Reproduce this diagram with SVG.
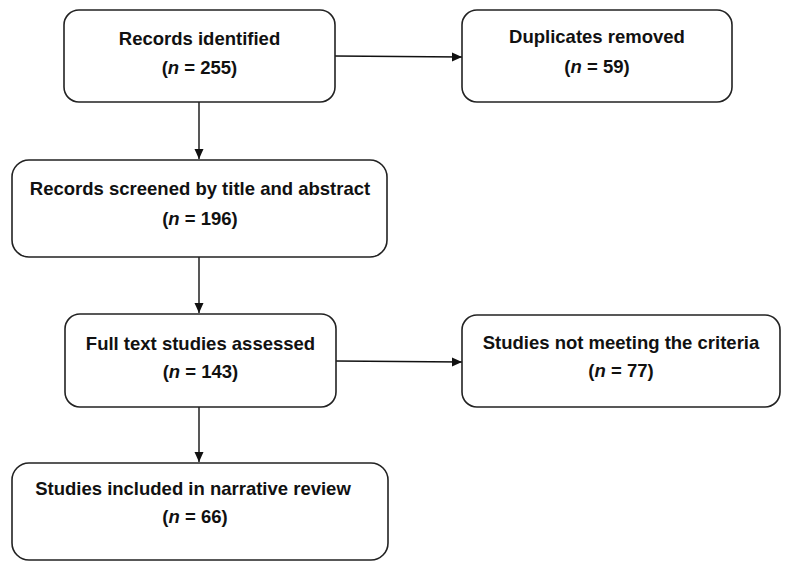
<svg xmlns="http://www.w3.org/2000/svg" width="790" height="572" viewBox="0 0 790 572">
<style>
.box{fill:#fff;stroke:#222;stroke-width:1.6}
.t{font-family:"Liberation Sans",Arial,sans-serif;font-weight:bold;font-size:18.5px;fill:#111;text-anchor:middle}
.c{stroke:#111;stroke-width:1.4;fill:none;marker-end:url(#ah)}
</style>
<defs>
<marker id="ah" markerWidth="11" markerHeight="11" refX="10" refY="5" orient="auto" markerUnits="userSpaceOnUse">
<path d="M0,0.5 L10,5 L0,9.5 Z" fill="#111"/>
</marker>
</defs>
<rect width="790" height="572" fill="#fff"/>
<g id="connectors">
<line class="c" x1="335" y1="56" x2="462" y2="57"/>
<line class="c" x1="199" y1="102" x2="199" y2="159"/>
<line class="c" x1="199" y1="257" x2="199" y2="313"/>
<line class="c" x1="336" y1="361" x2="462" y2="362"/>
<line class="c" x1="199" y1="407" x2="199" y2="462"/>
</g>
<g id="n1">
<rect class="box" x="64" y="10" width="271" height="92" rx="15"/>
<text class="t" x="199.5" y="45">Records identified</text>
<text class="t" x="199.5" y="74">(<tspan font-style="italic">n</tspan> = 255)</text>
</g>
<g id="n2">
<rect class="box" x="462" y="10" width="270" height="92" rx="15"/>
<text class="t" x="597" y="43">Duplicates removed</text>
<text class="t" x="597" y="73">(<tspan font-style="italic">n</tspan> = 59)</text>
</g>
<g id="n3">
<rect class="box" x="12" y="160" width="375" height="97" rx="17"/>
<text class="t" x="200" y="195">Records screened by title and abstract</text>
<text class="t" x="200" y="225">(<tspan font-style="italic">n</tspan> = 196)</text>
</g>
<g id="n4">
<rect class="box" x="65" y="314" width="271" height="93" rx="15"/>
<text class="t" x="200.5" y="350">Full text studies assessed</text>
<text class="t" x="200.5" y="378">(<tspan font-style="italic">n</tspan> = 143)</text>
</g>
<g id="n5">
<rect class="box" x="462" y="315" width="318" height="92" rx="15"/>
<text class="t" x="621" y="349">Studies not meeting the criteria</text>
<text class="t" x="621" y="377">(<tspan font-style="italic">n</tspan> = 77)</text>
</g>
<g id="n6">
<rect class="box" x="12" y="463" width="376" height="97" rx="17"/>
<text class="t" x="193" y="495">Studies included in narrative review</text>
<text class="t" x="195" y="523">(<tspan font-style="italic">n</tspan> = 66)</text>
</g>
</svg>
